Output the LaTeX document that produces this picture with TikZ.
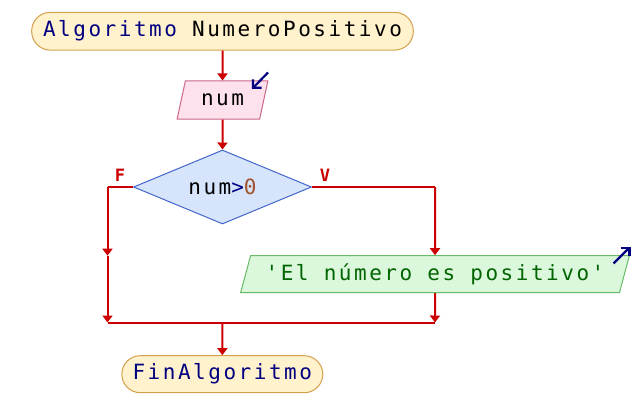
\documentclass[tikz,border=0pt]{standalone}
\usepackage{fontspec}
\newfontfamily\codefont[LetterSpace=12]{DejaVu Sans Mono}
\usetikzlibrary{shapes.geometric,arrows.meta}
\definecolor{termfill}{HTML}{FFF2CC}
\definecolor{termdraw}{HTML}{D4A04C}
\definecolor{infill}{HTML}{FDE2EE}
\definecolor{indraw}{HTML}{CC6688}
\definecolor{decfill}{HTML}{D6E4FC}
\definecolor{decdraw}{HTML}{4466CC}
\definecolor{outfill}{HTML}{DCF8DC}
\definecolor{outdraw}{HTML}{66BB66}
\definecolor{flowred}{HTML}{CC0000}
\definecolor{kwnavy}{HTML}{000080}
\definecolor{numbrown}{HTML}{A0522D}
\definecolor{strgreen}{HTML}{006400}
\tikzset{
  every node/.style={font=\codefont\fontsize{21}{25}\selectfont},
  term/.style={draw=termdraw, fill=termfill, line width=1pt, rectangle, rounded corners=18.5pt, inner sep=0pt},
  inbox/.style={draw=indraw, fill=infill, line width=1pt, trapezium, trapezium left angle=68.5, trapezium right angle=111.5, trapezium stretches=true, inner sep=0pt},
  outbox/.style={draw=outdraw, fill=outfill, line width=1pt, trapezium, trapezium left angle=66.6, trapezium right angle=113.4, trapezium stretches=true, inner sep=0pt},
  decbox/.style={draw=decdraw, fill=decfill, line width=1pt, diamond, aspect=2.4, inner sep=0pt},
  flow/.style={draw=flowred, line width=2pt, -{Triangle[width=10pt,length=7pt]}},
  plain/.style={draw=flowred, line width=2pt},
  branchlabel/.style={text=flowred, font=\codefont\bfseries\fontsize{17}{19}\selectfont},
  ioarrow/.style={draw=kwnavy, line width=2.2pt, -{Straight Barb[length=6pt,width=12pt]}}
}
\begin{document}
\begin{tikzpicture}[x=1pt,y=-1pt]
\useasboundingbox (0,0) rectangle (635,412);
\node[term, minimum width=381.6pt, minimum height=37.7pt] (start) at (222.5,31.2) {\textcolor{kwnavy}{Algoritmo} NumeroPositivo};
\node[inbox, minimum width=91pt, minimum height=38pt] (in) at (222.5,100) {num};
\node[decbox, minimum width=178pt, minimum height=74pt] (dec) at (222.5,187) {num\textcolor{kwnavy}{>}\textcolor{numbrown}{0}};
\node[outbox, minimum width=390pt, minimum height=37pt] (out) at (435,274.2) {\textcolor{strgreen}{'El número es positivo'}};
\node[term, minimum width=201pt, minimum height=37pt] (fin) at (222.3,374.2) {\textcolor{kwnavy}{FinAlgoritmo}};
\node[branchlabel] (flab) at (120,175) {F};
\node[branchlabel] (vlab) at (325,175) {V};
\coordinate (lc) at (107.5,187);
\coordinate (rc) at (435,187);
\coordinate (lmid) at (107.5,255.7);
\coordinate (lbot) at (107.5,322.5);
\coordinate (rbot) at (435,322.5);
\coordinate (mbot) at (222.5,322.5);
\coordinate (ia) at (268,72.5);
\coordinate (ib) at (252,89);
\coordinate (oa) at (613.5,263.5);
\coordinate (ob) at (630.5,246.5);
\draw[flow] (start.south) -- (in.north);
\draw[flow] (in.south) -- (dec.north);
\draw[plain] (dec.west) -- (lc);
\draw[flow] (lc) -- (lmid);
\draw[flow] (lmid) -- (lbot);
\draw[plain] (dec.east) -- (rc);
\draw[flow] (rc) -- (out.north);
\draw[flow] (out.south) -- (rbot);
\draw[plain] (lbot) -- (rbot);
\draw[flow] (mbot) -- (fin.north);
\draw[ioarrow] (ia) -- (ib);
\draw[ioarrow] (oa) -- (ob);
\end{tikzpicture}
\end{document}
